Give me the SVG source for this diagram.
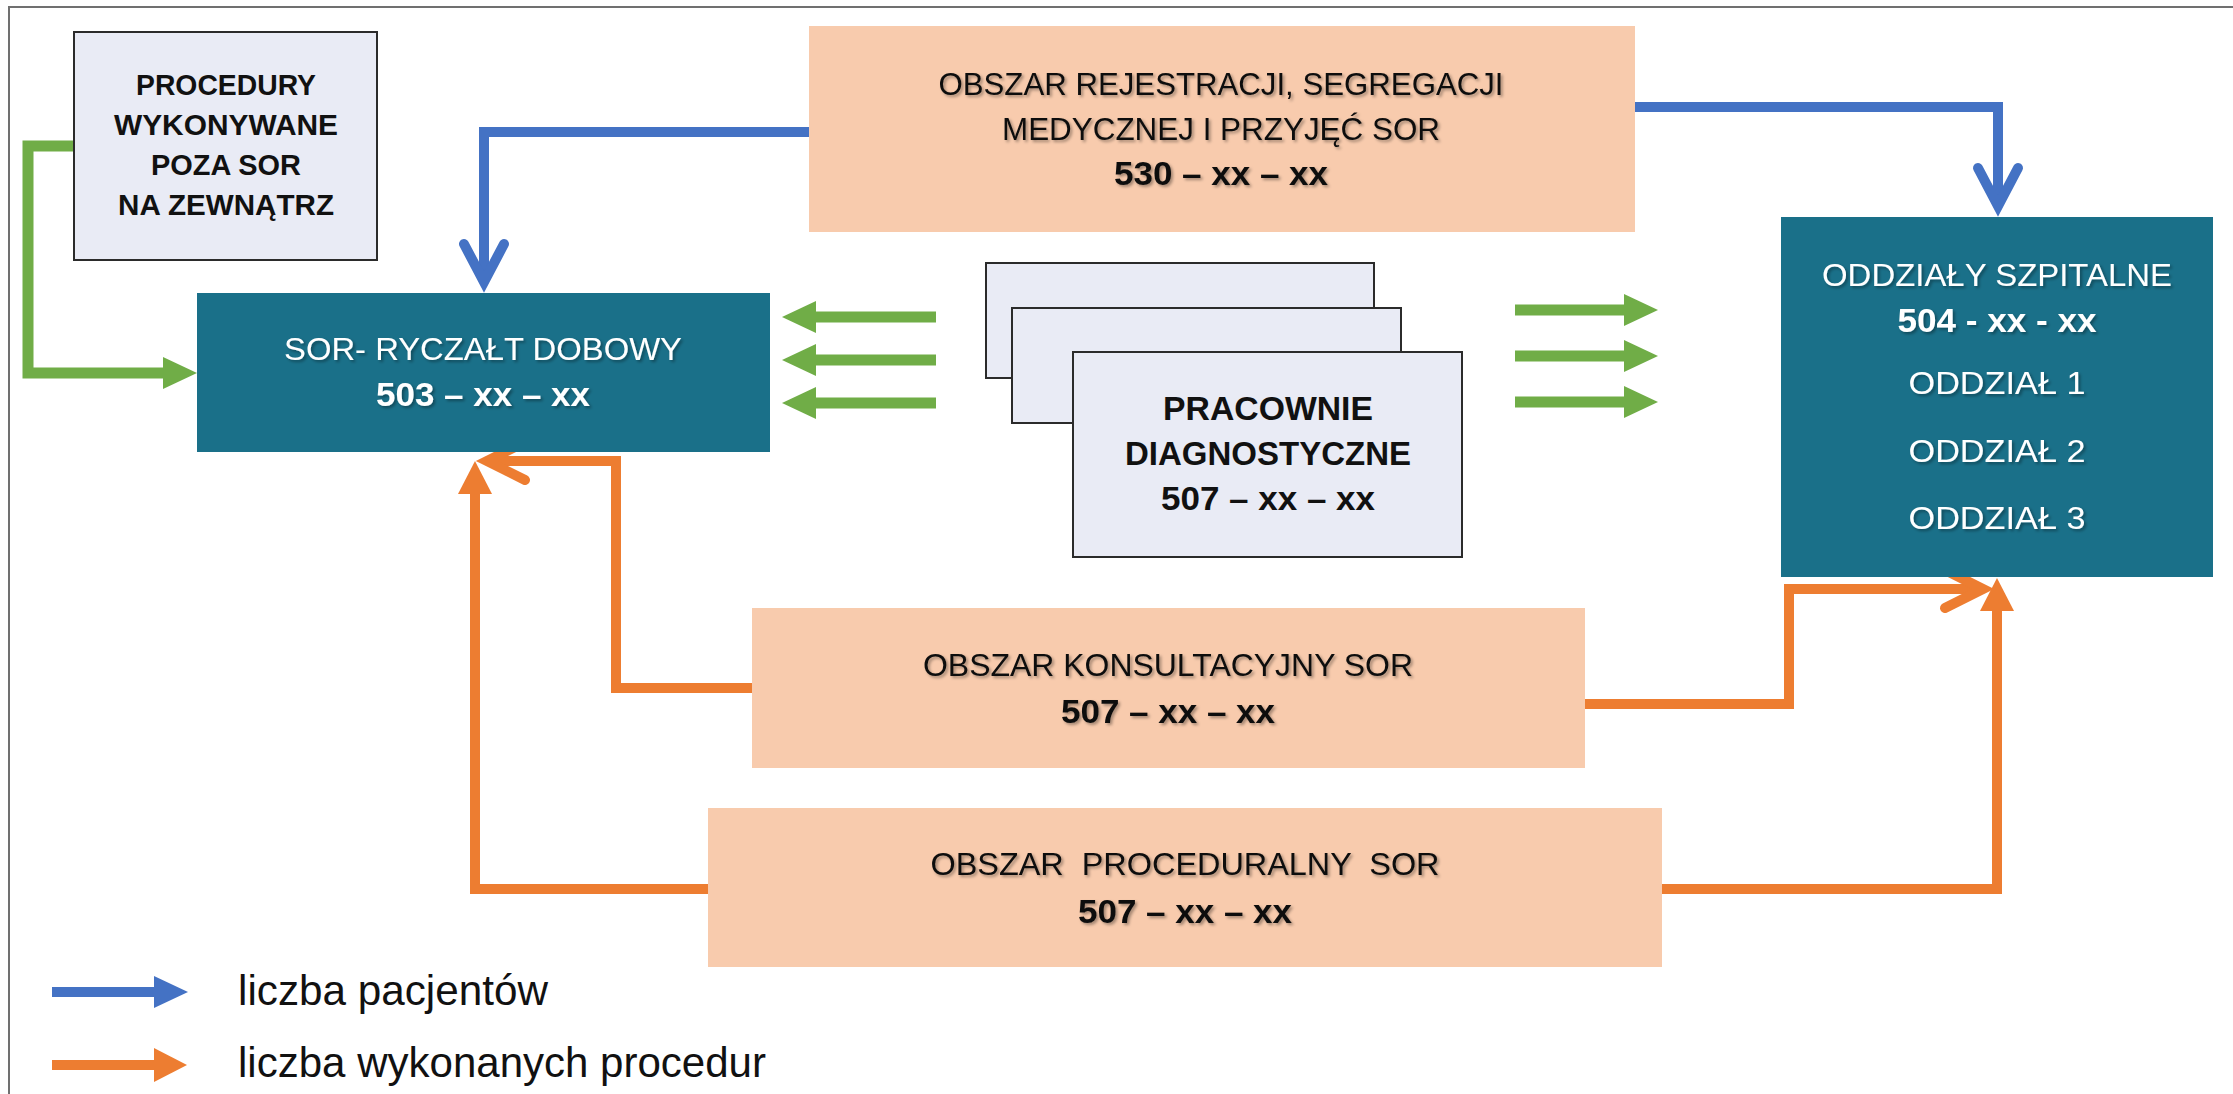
<svg xmlns="http://www.w3.org/2000/svg" width="2233" height="1094" viewBox="0 0 2233 1094">
<style>
  text { font-family: "Liberation Sans", Arial, sans-serif; text-anchor: middle; }
  .dark { fill: #111111; }
  .white { fill: #ffffff; }
  .b { font-weight: bold; }
  .t29 { font-size: 29px; }
  .t32 { font-size: 32px; }
  .t33 { font-size: 33px; }
  .leg { font-size: 42px; fill: #111111; text-anchor: start; }
  .peach { fill: #f8cbad; }
  .teal { fill: #1a7089; }
  .card { fill: #e9ebf5; stroke: #2b2b2b; stroke-width: 2; }
  .blue { stroke: #4472c4; stroke-width: 10; fill: none; stroke-linejoin: miter; }
  .green { stroke: #70ad47; stroke-width: 11; fill: none; stroke-linejoin: miter; }
  .orange { stroke: #ed7d31; stroke-width: 10; fill: none; stroke-linejoin: miter; }
  .shadow { filter: url(#ts); }
</style>
<defs>
  <filter id="ts" x="-5%" y="-30%" width="110%" height="160%">
    <feDropShadow dx="2" dy="2" stdDeviation="1.5" flood-color="#000000" flood-opacity="0.35"/>
  </filter>
  <marker id="chevBlue" markerUnits="userSpaceOnUse" viewBox="-50 -30 60 60" refX="0" refY="0" markerWidth="60" markerHeight="60" orient="auto" overflow="visible">
    <path d="M -38 -20 L 0 0 L -38 20" fill="none" stroke="#4472c4" stroke-width="10" stroke-linecap="round" stroke-linejoin="miter"/>
  </marker>
  <marker id="chevOrange" markerUnits="userSpaceOnUse" viewBox="-50 -30 60 60" refX="0" refY="0" markerWidth="60" markerHeight="60" orient="auto" overflow="visible">
    <path d="M -38 -19 L 0 0 L -38 19" fill="none" stroke="#ed7d31" stroke-width="10" stroke-linecap="round" stroke-linejoin="miter"/>
  </marker>
  <marker id="triGreen" markerUnits="userSpaceOnUse" viewBox="0 -20 40 40" refX="0" refY="0" markerWidth="40" markerHeight="40" orient="auto" overflow="visible">
    <path d="M 0 -16 L 34 0 L 0 16 Z" fill="#70ad47"/>
  </marker>
  <marker id="triOrange" markerUnits="userSpaceOnUse" viewBox="0 -20 40 40" refX="0" refY="0" markerWidth="40" markerHeight="40" orient="auto" overflow="visible">
    <path d="M 0 -17 L 33 0 L 0 17 Z" fill="#ed7d31"/>
  </marker>
  <marker id="triBlue" markerUnits="userSpaceOnUse" viewBox="0 -20 40 40" refX="0" refY="0" markerWidth="40" markerHeight="40" orient="auto" overflow="visible">
    <path d="M 0 -16 L 34 0 L 0 16 Z" fill="#4472c4"/>
  </marker>
</defs>

<rect x="0" y="0" width="2233" height="1094" fill="#ffffff"/>
<path id="frame" d="M 9 1094 V 7 H 2233" fill="none" stroke="#707070" stroke-width="2"/>

<g id="connectors">
  <path class="blue" d="M 809 132 H 484 V 282" marker-end="url(#chevBlue)"/>
  <path class="blue" d="M 1635 107 H 1998 V 206" marker-end="url(#chevBlue)"/>
  <path class="green" d="M 74 146 H 28 V 373 H 163" marker-end="url(#triGreen)"/>
  <path class="green" d="M 936 317 H 816" marker-end="url(#triGreen)"/>
  <path class="green" d="M 936 360 H 816" marker-end="url(#triGreen)"/>
  <path class="green" d="M 936 403 H 816" marker-end="url(#triGreen)"/>
  <path class="green" d="M 1515 310 H 1624" marker-end="url(#triGreen)"/>
  <path class="green" d="M 1515 356 H 1624" marker-end="url(#triGreen)"/>
  <path class="green" d="M 1515 402 H 1624" marker-end="url(#triGreen)"/>
  <path class="orange" d="M 752 688 H 616 V 461 H 487" marker-end="url(#chevOrange)"/>
  <path class="orange" d="M 708 889 H 475 V 494" marker-end="url(#triOrange)"/>
  <path class="orange" d="M 1585 704 H 1789 V 589 H 1983" marker-end="url(#chevOrange)"/>
  <path class="orange" d="M 1662 889 H 1997 V 611" marker-end="url(#triOrange)"/>
</g>

<g id="procedury">
  <rect class="card" x="74" y="32" width="303" height="228"/>
  <text class="dark b t29" x="226" y="95" textLength="180" lengthAdjust="spacingAndGlyphs">PROCEDURY</text>
  <text class="dark b t29" x="226" y="135" textLength="224" lengthAdjust="spacingAndGlyphs">WYKONYWANE</text>
  <text class="dark b t29" x="226" y="175" textLength="150" lengthAdjust="spacingAndGlyphs">POZA SOR</text>
  <text class="dark b t29" x="226" y="215" textLength="216" lengthAdjust="spacingAndGlyphs">NA ZEWNĄTRZ</text>
</g>

<g id="rejestracja">
  <rect class="peach" x="809" y="26" width="826" height="206"/>
  <text class="dark t32 shadow" x="1221" y="95" textLength="565" lengthAdjust="spacingAndGlyphs">OBSZAR REJESTRACJI, SEGREGACJI</text>
  <text class="dark t32 shadow" x="1221" y="140" textLength="438" lengthAdjust="spacingAndGlyphs">MEDYCZNEJ I PRZYJĘĆ SOR</text>
  <text class="dark b t33 shadow" x="1221" y="185" textLength="214" lengthAdjust="spacingAndGlyphs">530 – xx – xx</text>
</g>

<g id="sor">
  <rect class="teal" x="197" y="293" width="573" height="159"/>
  <text class="white t32 shadow" x="483" y="360" textLength="398" lengthAdjust="spacingAndGlyphs">SOR- RYCZAŁT DOBOWY</text>
  <text class="white b t33 shadow" x="483" y="406" textLength="214" lengthAdjust="spacingAndGlyphs">503 – xx – xx</text>
</g>

<g id="pracownie">
  <rect class="card" x="986" y="263" width="388" height="115"/>
  <rect class="card" x="1012" y="308" width="389" height="115"/>
  <rect class="card" x="1073" y="352" width="389" height="205"/>
  <text class="dark b t33" x="1268" y="420" textLength="210" lengthAdjust="spacingAndGlyphs">PRACOWNIE</text>
  <text class="dark b t33" x="1268" y="465" textLength="286" lengthAdjust="spacingAndGlyphs">DIAGNOSTYCZNE</text>
  <text class="dark b t33" x="1268" y="510" textLength="214" lengthAdjust="spacingAndGlyphs">507 – xx – xx</text>
</g>

<g id="oddzialy">
  <rect class="teal" x="1781" y="217" width="432" height="360"/>
  <text class="white t32 shadow" x="1997" y="286" textLength="350" lengthAdjust="spacingAndGlyphs">ODDZIAŁY SZPITALNE</text>
  <text class="white b t33 shadow" x="1997" y="332" textLength="199" lengthAdjust="spacingAndGlyphs">504 - xx - xx</text>
  <text class="white t32 shadow" x="1997" y="394" textLength="177" lengthAdjust="spacingAndGlyphs">ODDZIAŁ 1</text>
  <text class="white t32 shadow" x="1997" y="462" textLength="177" lengthAdjust="spacingAndGlyphs">ODDZIAŁ 2</text>
  <text class="white t32 shadow" x="1997" y="529" textLength="177" lengthAdjust="spacingAndGlyphs">ODDZIAŁ 3</text>
</g>

<g id="konsultacyjny">
  <rect class="peach" x="752" y="608" width="833" height="160"/>
  <text class="dark t32 shadow" x="1168" y="676" textLength="490" lengthAdjust="spacingAndGlyphs">OBSZAR KONSULTACYJNY SOR</text>
  <text class="dark b t33 shadow" x="1168" y="723" textLength="214" lengthAdjust="spacingAndGlyphs">507 – xx – xx</text>
</g>

<g id="proceduralny">
  <rect class="peach" x="708" y="808" width="954" height="159"/>
  <text class="dark t32 shadow" x="1185" y="875" textLength="509" lengthAdjust="spacingAndGlyphs" xml:space="preserve">OBSZAR  PROCEDURALNY  SOR</text>
  <text class="dark b t33 shadow" x="1185" y="923" textLength="214" lengthAdjust="spacingAndGlyphs">507 – xx – xx</text>
</g>

<g id="legend">
  <path class="blue" d="M 52 992 H 154" stroke-width="11" marker-end="url(#triBlue)"/>
  <text class="leg" x="238" y="1005" textLength="310" lengthAdjust="spacingAndGlyphs">liczba pacjentów</text>
  <path class="orange" d="M 52 1065 H 154" stroke-width="11" marker-end="url(#triOrange)"/>
  <text class="leg" x="238" y="1077" textLength="528" lengthAdjust="spacingAndGlyphs">liczba wykonanych procedur</text>
</g>
</svg>
